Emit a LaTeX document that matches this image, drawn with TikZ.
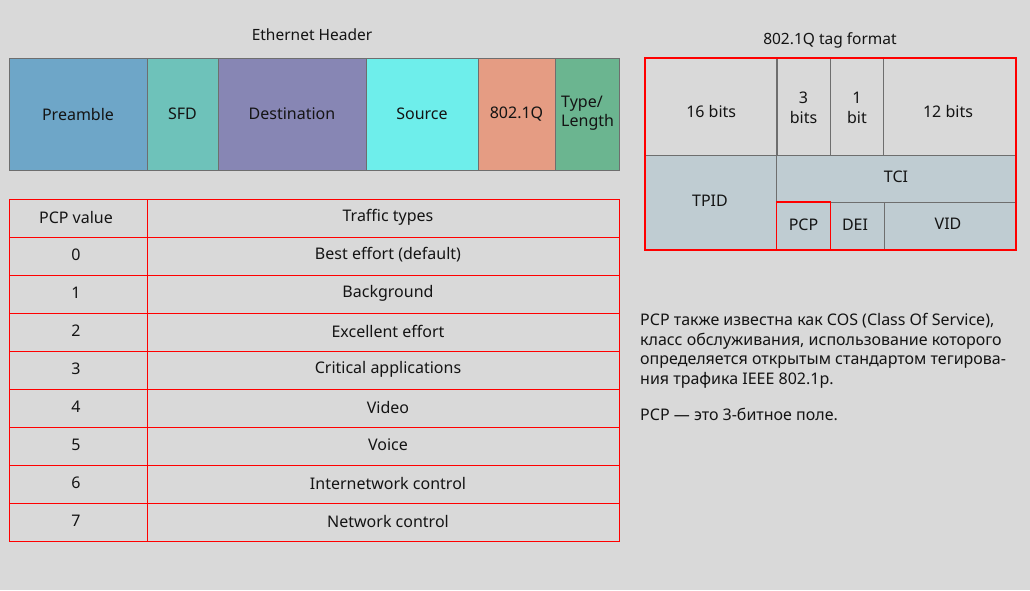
\documentclass[tikz,border=0pt]{standalone}
\usepackage{fontspec}
\setmainfont{Noto Sans}
\definecolor{bgc}{HTML}{D9D9D9}
\definecolor{txt}{HTML}{141414}
\definecolor{cPre}{HTML}{6EA6C8}
\definecolor{cSFD}{HTML}{6EC2BA}
\definecolor{cDst}{HTML}{8786B4}
\definecolor{cSrc}{HTML}{6EEEEB}
\definecolor{cQ}{HTML}{E59C83}
\definecolor{cTL}{HTML}{6BB590}
\definecolor{cTag}{HTML}{BFCCD2}
\definecolor{lineg}{HTML}{6E6E6E}
\definecolor{redl}{HTML}{FF0000}
\begin{document}
\begin{tikzpicture}[x=1pt,y=-1pt,
  every node/.style={text=txt, inner sep=0pt, font=\fontsize{16}{19}\selectfont},
  hbox/.style={draw=lineg, line width=1pt, minimum height=112pt},
  tcell/.style={draw=redl, line width=0.8pt, minimum height=38pt},
  tagc/.style={draw=lineg, line width=0.8pt},
  ttl/.style={font=\fontsize{15.5}{18}\selectfont},
  para/.style={anchor=base west, font=\fontsize{16}{19}\selectfont}]
\fill[bgc] (0,0) rectangle (1030,590);
\useasboundingbox (0,0) rectangle (1030,590);

% Ethernet header
\node[ttl] (eth) at (312,35) {Ethernet Header};
\node[hbox, fill=cPre, minimum width=138pt] (pre) at (78,114) {Preamble};
\node[hbox, fill=cSFD, minimum width=71pt] (sfd) at (182.5,114) {SFD};
\node[hbox, fill=cDst, minimum width=148pt] (dst) at (292,114) {Destination};
\node[hbox, fill=cSrc, minimum width=112pt] (src) at (422,114) {Source};
\node[hbox, fill=cQ, minimum width=77pt] (q) at (516.5,114) {802.1Q};
\node[hbox, fill=cTL, minimum width=64pt] (tl) at (587,114) {};
\node[align=left, anchor=west, font=\fontsize{16}{19}\selectfont] (tltxt) at (561,113) {Type/\\Length};

% PCP table
\foreach \i/\v/\t in {0/PCP value/Traffic types, 1/0/Best effort (default), 2/1/Background, 3/2/Excellent effort, 4/3/Critical applications, 5/4/Video, 6/5/Voice, 7/6/Internetwork control, 8/7/Network control}{
  \node[tcell, minimum width=138pt] (v\i) at (78,{218+38*\i}) {};
  \node[tcell, minimum width=472pt] (t\i) at (383,{218+38*\i}) {};
  \node (vt\i) at (76,{217+38*\i}) {\v};
  \node (tt\i) at (388,{217+38*\i}) {\t};
}

% 802.1Q tag format
\node[ttl] (tagt) at (830,40) {802.1Q tag format};
\node[tagc, minimum width=131.7pt, minimum height=97pt] (b16) at (711.2,106.7) {};
\node (b16t) at (711.2,111) {16 bits};
\node[tagc, minimum width=53.6pt, minimum height=97pt] (b3) at (803.5,106.7) {};
\node[align=center, font=\fontsize{16}{20}\selectfont] (b3t) at (803.5,107.5) {3\\bits};
\node[tagc, minimum width=53.4pt, minimum height=97pt] (b1) at (857,106.7) {};
\node[align=center, font=\fontsize{16}{20}\selectfont] (b1t) at (857,107.5) {1\\bit};
\node[tagc, minimum width=131.8pt, minimum height=97pt] (b12) at (949.6,106.7) {};
\node (b12t) at (948,111) {12 bits};
\node[tagc, fill=cTag, minimum width=131.7pt, minimum height=94pt] (tpid) at (711.2,202.3) {};
\node (tpidt) at (710,200.5) {TPID};
\node[tagc, fill=cTag, minimum width=238.9pt, minimum height=47pt] (tci) at (896.1,178.8) {};
\node (tcit) at (896,177) {TCI};
\node[tagc, fill=cTag, minimum width=53.6pt, minimum height=47pt] (pcp) at (803.5,225.8) {};
\node (pcpt) at (803.5,225) {PCP};
\node[tagc, fill=cTag, minimum width=54pt, minimum height=47pt] (dei) at (857.3,225.8) {};
\node (deit) at (855,225) {DEI};
\node[tagc, fill=cTag, minimum width=131.4pt, minimum height=47pt] (vid) at (949.9,225.8) {};
\node (vidt) at (948,224) {VID};
\draw[redl, line width=1.4pt] (pcp.north west) rectangle (pcp.south east);
\draw[redl, line width=2pt] (b16.north west) rectangle (vid.south east);

% Paragraph
\node[para] (p1) at (640,325.5) {PCP также известна как COS (Class Of Service),};
\node[para] (p2) at (640,345) {класс обслуживания, использование которого};
\node[para] (p3) at (640,364.5) {определяется открытым стандартом тегирова-};
\node[para] (p4) at (640,384) {ния трафика IEEE 802.1p.};
\node[para] (p5) at (640,420.5) {PCP — это 3-битное поле.};
\end{tikzpicture}
\end{document}
